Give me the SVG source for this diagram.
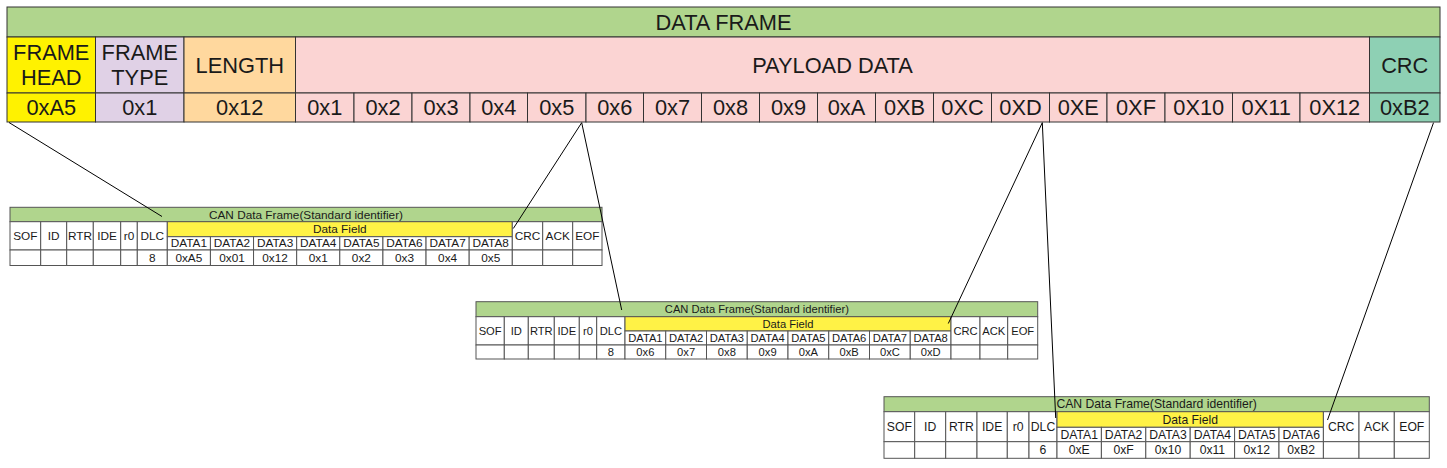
<svg xmlns="http://www.w3.org/2000/svg" width="1447" height="468" viewBox="0 0 1447 468">
<style>
text{font-family:"Liberation Sans",Arial,sans-serif;fill:#1a1a1a;text-anchor:middle;dominant-baseline:central}
.big{font-size:21.8px}
.c{stroke:#333;stroke-width:1}
.t{stroke:#555;stroke-width:1}
.g{fill:#b0d58d}.y{fill:#fff200}.p{fill:#e0d1e6}.o{fill:#ffd89e}.k{fill:#fbd4d3}.q{fill:#8ed0b4}.w{fill:#fff}.yl{fill:#fff246}
.t1 text{font-size:11.8px}.t2 text{font-size:11.2px}.t3 text{font-size:12.2px}
.ln{stroke:#000;stroke-width:1;fill:none}
</style>
<rect width="1447" height="468" fill="#fff"/>
<g id="data-frame">
<rect class="c g" x="7" y="7" width="1433" height="30"/>
<text class="big" x="723.5" y="22">DATA FRAME</text>
</g>
<g id="frame-head">
<rect class="c y" x="7" y="37" width="88.5" height="56"/>
<rect class="c y" x="7" y="93" width="88.5" height="29"/>
<text class="big" x="51.25" y="52.5">FRAME</text>
<text class="big" x="51.25" y="77.5">HEAD</text>
<text class="big" x="51.25" y="107.5">0xA5</text>
</g>
<g id="frame-type">
<rect class="c p" x="95.5" y="37" width="88.5" height="56"/>
<rect class="c p" x="95.5" y="93" width="88.5" height="29"/>
<text class="big" x="139.75" y="52.5">FRAME</text>
<text class="big" x="139.75" y="77.5">TYPE</text>
<text class="big" x="139.75" y="107.5">0x1</text>
</g>
<g id="length">
<rect class="c o" x="184" y="37" width="111.5" height="56"/>
<rect class="c o" x="184" y="93" width="111.5" height="29"/>
<text class="big" x="239.75" y="65">LENGTH</text>
<text class="big" x="239.75" y="107.5">0x12</text>
</g>
<g id="payload">
<rect class="c k" x="295.5" y="37" width="1074" height="56"/>
<text class="big" x="832.5" y="65">PAYLOAD DATA</text>
<rect class="c k" x="295.5" y="93" width="58.5" height="29"/><text class="big" x="324.75" y="107.5">0x1</text>
<rect class="c k" x="354" y="93" width="58" height="29"/><text class="big" x="383" y="107.5">0x2</text>
<rect class="c k" x="412" y="93" width="58" height="29"/><text class="big" x="441" y="107.5">0x3</text>
<rect class="c k" x="470" y="93" width="57.5" height="29"/><text class="big" x="498.75" y="107.5">0x4</text>
<rect class="c k" x="527.5" y="93" width="58.5" height="29"/><text class="big" x="556.75" y="107.5">0x5</text>
<rect class="c k" x="586" y="93" width="57.5" height="29"/><text class="big" x="614.75" y="107.5">0x6</text>
<rect class="c k" x="643.5" y="93" width="58" height="29"/><text class="big" x="672.5" y="107.5">0x7</text>
<rect class="c k" x="701.5" y="93" width="58" height="29"/><text class="big" x="730.5" y="107.5">0x8</text>
<rect class="c k" x="759.5" y="93" width="58" height="29"/><text class="big" x="788.5" y="107.5">0x9</text>
<rect class="c k" x="817.5" y="93" width="58" height="29"/><text class="big" x="846.5" y="107.5">0xA</text>
<rect class="c k" x="875.5" y="93" width="58" height="29"/><text class="big" x="904.5" y="107.5">0XB</text>
<rect class="c k" x="933.5" y="93" width="58" height="29"/><text class="big" x="962.5" y="107.5">0XC</text>
<rect class="c k" x="991.5" y="93" width="58" height="29"/><text class="big" x="1020.5" y="107.5">0XD</text>
<rect class="c k" x="1049.5" y="93" width="57.5" height="29"/><text class="big" x="1078.25" y="107.5">0XE</text>
<rect class="c k" x="1107" y="93" width="58" height="29"/><text class="big" x="1136" y="107.5">0XF</text>
<rect class="c k" x="1165" y="93" width="67.5" height="29"/><text class="big" x="1198.75" y="107.5">0X10</text>
<rect class="c k" x="1232.5" y="93" width="67.5" height="29"/><text class="big" x="1266.25" y="107.5">0X11</text>
<rect class="c k" x="1300" y="93" width="69.5" height="29"/><text class="big" x="1334.75" y="107.5">0X12</text>
</g>
<g id="crc">
<rect class="c q" x="1369.5" y="37" width="70.5" height="56"/>
<rect class="c q" x="1369.5" y="93" width="70.5" height="29"/>
<text class="big" x="1404.75" y="65">CRC</text>
<text class="big" x="1404.75" y="107.5">0xB2</text>
</g>

<g id="can-frame-1" class="t1">
<rect class="t g" x="10" y="207.3" width="592" height="14.4"/>
<text x="306" y="214.5">CAN Data Frame(Standard identifier)</text>
<rect class="t w" x="10" y="221.7" width="30.7" height="28.3"/><text x="25.35" y="235.85">SOF</text>
<rect class="t w" x="40.7" y="221.7" width="26" height="28.3"/><text x="53.7" y="235.85">ID</text>
<rect class="t w" x="66.7" y="221.7" width="26.6" height="28.3"/><text x="80" y="235.85">RTR</text>
<rect class="t w" x="93.3" y="221.7" width="27.4" height="28.3"/><text x="107" y="235.85">IDE</text>
<rect class="t w" x="120.7" y="221.7" width="16.6" height="28.3"/><text x="129" y="235.85">r0</text>
<rect class="t w" x="137.3" y="221.7" width="30" height="28.3"/><text x="152.3" y="235.85">DLC</text>
<rect class="t yl" x="167.3" y="221.7" width="345" height="15"/><text x="339.8" y="229.2">Data Field</text>
<rect class="t w" x="167.3" y="236.7" width="43.13" height="13.3"/><text x="188.86" y="243.35">DATA1</text>
<rect class="t w" x="210.43" y="236.7" width="43.12" height="13.3"/><text x="231.99" y="243.35">DATA2</text>
<rect class="t w" x="253.55" y="236.7" width="43.13" height="13.3"/><text x="275.11" y="243.35">DATA3</text>
<rect class="t w" x="296.68" y="236.7" width="43.12" height="13.3"/><text x="318.24" y="243.35">DATA4</text>
<rect class="t w" x="339.8" y="236.7" width="43.13" height="13.3"/><text x="361.36" y="243.35">DATA5</text>
<rect class="t w" x="382.93" y="236.7" width="43.12" height="13.3"/><text x="404.49" y="243.35">DATA6</text>
<rect class="t w" x="426.05" y="236.7" width="43.13" height="13.3"/><text x="447.61" y="243.35">DATA7</text>
<rect class="t w" x="469.18" y="236.7" width="43.12" height="13.3"/><text x="490.74" y="243.35">DATA8</text>
<rect class="t w" x="512.3" y="221.7" width="30.4" height="28.3"/><text x="527.5" y="235.85">CRC</text>
<rect class="t w" x="542.7" y="221.7" width="30" height="28.3"/><text x="557.7" y="235.85">ACK</text>
<rect class="t w" x="572.7" y="221.7" width="29.3" height="28.3"/><text x="587.35" y="235.85">EOF</text>
<rect class="t w" x="10" y="250" width="30.7" height="15.5"/>
<rect class="t w" x="40.7" y="250" width="26" height="15.5"/>
<rect class="t w" x="66.7" y="250" width="26.6" height="15.5"/>
<rect class="t w" x="93.3" y="250" width="27.4" height="15.5"/>
<rect class="t w" x="120.7" y="250" width="16.6" height="15.5"/>
<rect class="t w" x="137.3" y="250" width="30" height="15.5"/><text x="152.3" y="257.75">8</text>
<rect class="t w" x="167.3" y="250" width="43.13" height="15.5"/><text x="188.86" y="257.75">0xA5</text>
<rect class="t w" x="210.43" y="250" width="43.12" height="15.5"/><text x="231.99" y="257.75">0x01</text>
<rect class="t w" x="253.55" y="250" width="43.13" height="15.5"/><text x="275.11" y="257.75">0x12</text>
<rect class="t w" x="296.68" y="250" width="43.12" height="15.5"/><text x="318.24" y="257.75">0x1</text>
<rect class="t w" x="339.8" y="250" width="43.13" height="15.5"/><text x="361.36" y="257.75">0x2</text>
<rect class="t w" x="382.93" y="250" width="43.12" height="15.5"/><text x="404.49" y="257.75">0x3</text>
<rect class="t w" x="426.05" y="250" width="43.13" height="15.5"/><text x="447.61" y="257.75">0x4</text>
<rect class="t w" x="469.18" y="250" width="43.12" height="15.5"/><text x="490.74" y="257.75">0x5</text>
<rect class="t w" x="512.3" y="250" width="30.4" height="15.5"/>
<rect class="t w" x="542.7" y="250" width="30" height="15.5"/>
<rect class="t w" x="572.7" y="250" width="29.3" height="15.5"/>
</g>

<g id="can-frame-2" class="t2">
<rect class="t g" x="476" y="301.7" width="561.7" height="15"/>
<text x="756.85" y="309.2">CAN Data Frame(Standard identifier)</text>
<rect class="t w" x="476" y="316.7" width="28.3" height="28.3"/><text x="490.15" y="330.85">SOF</text>
<rect class="t w" x="504.3" y="316.7" width="24" height="28.3"/><text x="516.3" y="330.85">ID</text>
<rect class="t w" x="528.3" y="316.7" width="26" height="28.3"/><text x="541.3" y="330.85">RTR</text>
<rect class="t w" x="554.3" y="316.7" width="25" height="28.3"/><text x="566.8" y="330.85">IDE</text>
<rect class="t w" x="579.3" y="316.7" width="17.4" height="28.3"/><text x="588" y="330.85">r0</text>
<rect class="t w" x="596.7" y="316.7" width="28.3" height="28.3"/><text x="610.85" y="330.85">DLC</text>
<rect class="t yl" x="625" y="316.7" width="326" height="14.3"/><text x="788" y="323.85">Data Field</text>
<rect class="t w" x="625" y="331" width="40.75" height="14"/><text x="645.38" y="338">DATA1</text>
<rect class="t w" x="665.75" y="331" width="40.75" height="14"/><text x="686.13" y="338">DATA2</text>
<rect class="t w" x="706.5" y="331" width="40.75" height="14"/><text x="726.88" y="338">DATA3</text>
<rect class="t w" x="747.25" y="331" width="40.75" height="14"/><text x="767.63" y="338">DATA4</text>
<rect class="t w" x="788" y="331" width="40.75" height="14"/><text x="808.38" y="338">DATA5</text>
<rect class="t w" x="828.75" y="331" width="40.75" height="14"/><text x="849.13" y="338">DATA6</text>
<rect class="t w" x="869.5" y="331" width="40.75" height="14"/><text x="889.88" y="338">DATA7</text>
<rect class="t w" x="910.25" y="331" width="40.75" height="14"/><text x="930.63" y="338">DATA8</text>
<rect class="t w" x="951" y="316.7" width="29" height="28.3"/><text x="965.5" y="330.85">CRC</text>
<rect class="t w" x="980" y="316.7" width="27.7" height="28.3"/><text x="993.85" y="330.85">ACK</text>
<rect class="t w" x="1007.7" y="316.7" width="30" height="28.3"/><text x="1022.7" y="330.85">EOF</text>
<rect class="t w" x="476" y="345" width="28.3" height="14"/>
<rect class="t w" x="504.3" y="345" width="24" height="14"/>
<rect class="t w" x="528.3" y="345" width="26" height="14"/>
<rect class="t w" x="554.3" y="345" width="25" height="14"/>
<rect class="t w" x="579.3" y="345" width="17.4" height="14"/>
<rect class="t w" x="596.7" y="345" width="28.3" height="14"/><text x="610.85" y="352">8</text>
<rect class="t w" x="625" y="345" width="40.75" height="14"/><text x="645.38" y="352">0x6</text>
<rect class="t w" x="665.75" y="345" width="40.75" height="14"/><text x="686.13" y="352">0x7</text>
<rect class="t w" x="706.5" y="345" width="40.75" height="14"/><text x="726.88" y="352">0x8</text>
<rect class="t w" x="747.25" y="345" width="40.75" height="14"/><text x="767.63" y="352">0x9</text>
<rect class="t w" x="788" y="345" width="40.75" height="14"/><text x="808.38" y="352">0xA</text>
<rect class="t w" x="828.75" y="345" width="40.75" height="14"/><text x="849.13" y="352">0xB</text>
<rect class="t w" x="869.5" y="345" width="40.75" height="14"/><text x="889.88" y="352">0xC</text>
<rect class="t w" x="910.25" y="345" width="40.75" height="14"/><text x="930.63" y="352">0xD</text>
<rect class="t w" x="951" y="345" width="29" height="14"/>
<rect class="t w" x="980" y="345" width="27.7" height="14"/>
<rect class="t w" x="1007.7" y="345" width="30" height="14"/>
</g>

<g id="can-frame-3" class="t3">
<rect class="t g" x="884" y="396.7" width="545.3" height="15"/>
<text x="1156.65" y="404.2">CAN Data Frame(Standard identifier)</text>
<rect class="t w" x="884" y="411.7" width="30.7" height="30"/><text x="899.35" y="426.7">SOF</text>
<rect class="t w" x="914.7" y="411.7" width="31" height="30"/><text x="930.2" y="426.7">ID</text>
<rect class="t w" x="945.7" y="411.7" width="31.3" height="30"/><text x="961.35" y="426.7">RTR</text>
<rect class="t w" x="977" y="411.7" width="30.3" height="30"/><text x="992.15" y="426.7">IDE</text>
<rect class="t w" x="1007.3" y="411.7" width="21.7" height="30"/><text x="1018.15" y="426.7">r0</text>
<rect class="t w" x="1029" y="411.7" width="28" height="30"/><text x="1043" y="426.7">DLC</text>
<rect class="t yl" x="1057" y="411.7" width="266.4" height="15.6"/><text x="1190.2" y="419.5">Data Field</text>
<rect class="t w" x="1057" y="427.3" width="44.4" height="14.4"/><text x="1079.2" y="434.5">DATA1</text>
<rect class="t w" x="1101.4" y="427.3" width="44.4" height="14.4"/><text x="1123.6" y="434.5">DATA2</text>
<rect class="t w" x="1145.8" y="427.3" width="44.4" height="14.4"/><text x="1168" y="434.5">DATA3</text>
<rect class="t w" x="1190.2" y="427.3" width="44.4" height="14.4"/><text x="1212.4" y="434.5">DATA4</text>
<rect class="t w" x="1234.6" y="427.3" width="44.4" height="14.4"/><text x="1256.8" y="434.5">DATA5</text>
<rect class="t w" x="1279" y="427.3" width="44.4" height="14.4"/><text x="1301.2" y="434.5">DATA6</text>
<rect class="t w" x="1323.4" y="411.7" width="35.6" height="30"/><text x="1341.2" y="426.7">CRC</text>
<rect class="t w" x="1359" y="411.7" width="35.3" height="30"/><text x="1376.65" y="426.7">ACK</text>
<rect class="t w" x="1394.3" y="411.7" width="35" height="30"/><text x="1411.8" y="426.7">EOF</text>
<rect class="t w" x="884" y="441.7" width="30.7" height="16.6"/>
<rect class="t w" x="914.7" y="441.7" width="31" height="16.6"/>
<rect class="t w" x="945.7" y="441.7" width="31.3" height="16.6"/>
<rect class="t w" x="977" y="441.7" width="30.3" height="16.6"/>
<rect class="t w" x="1007.3" y="441.7" width="21.7" height="16.6"/>
<rect class="t w" x="1029" y="441.7" width="28" height="16.6"/><text x="1043" y="450">6</text>
<rect class="t w" x="1057" y="441.7" width="44.4" height="16.6"/><text x="1079.2" y="450">0xE</text>
<rect class="t w" x="1101.4" y="441.7" width="44.4" height="16.6"/><text x="1123.6" y="450">0xF</text>
<rect class="t w" x="1145.8" y="441.7" width="44.4" height="16.6"/><text x="1168" y="450">0x10</text>
<rect class="t w" x="1190.2" y="441.7" width="44.4" height="16.6"/><text x="1212.4" y="450">0x11</text>
<rect class="t w" x="1234.6" y="441.7" width="44.4" height="16.6"/><text x="1256.8" y="450">0x12</text>
<rect class="t w" x="1279" y="441.7" width="44.4" height="16.6"/><text x="1301.2" y="450">0xB2</text>
<rect class="t w" x="1323.4" y="441.7" width="35.6" height="16.6"/>
<rect class="t w" x="1359" y="441.7" width="35.3" height="16.6"/>
<rect class="t w" x="1394.3" y="441.7" width="35" height="16.6"/>
</g>

<g id="connectors">
<line class="ln" x1="9" y1="122.5" x2="162" y2="216.5"/>
<line class="ln" x1="581.7" y1="122.7" x2="513.3" y2="228.5"/>
<line class="ln" x1="581.7" y1="122.7" x2="621.7" y2="310"/>
<line class="ln" x1="1042.3" y1="122.7" x2="948.3" y2="323.5"/>
<line class="ln" x1="1042.3" y1="122.7" x2="1055.7" y2="418"/>
<line class="ln" x1="1433.5" y1="122.7" x2="1327.5" y2="420"/>
</g>
</svg>
